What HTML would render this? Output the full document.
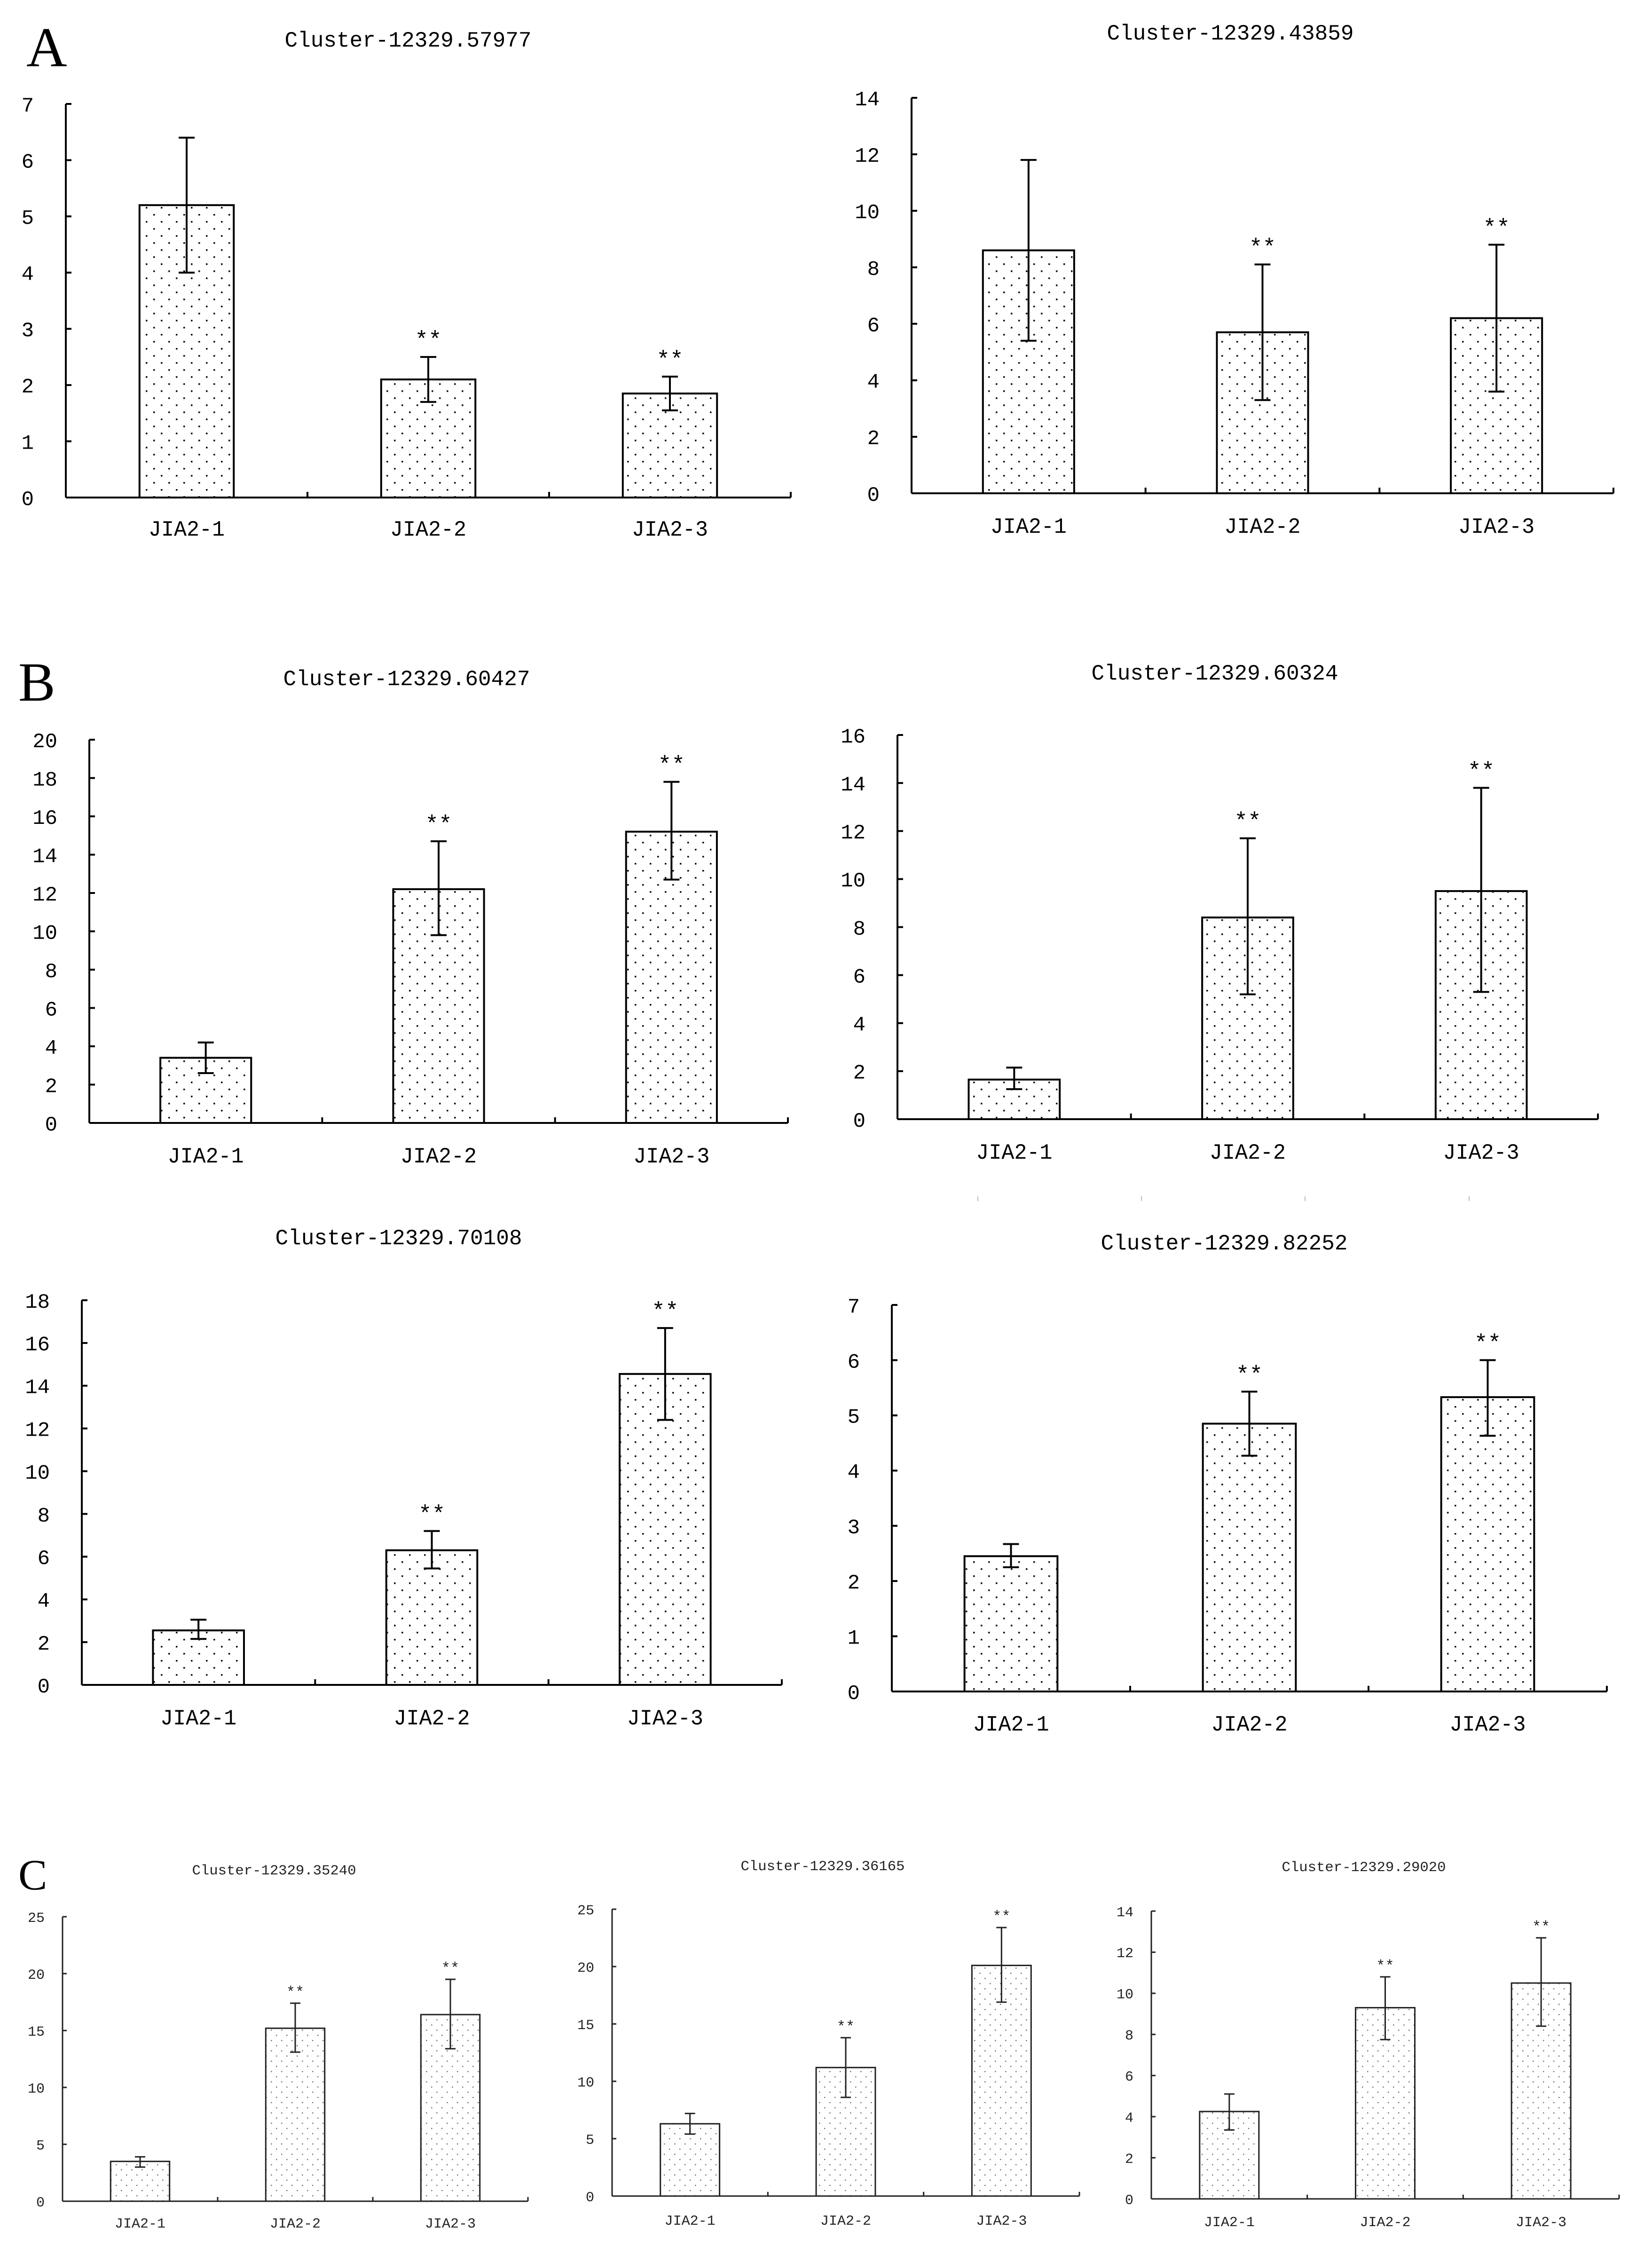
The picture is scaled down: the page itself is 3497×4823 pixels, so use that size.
<!DOCTYPE html>
<html><head><meta charset="utf-8"><style>
html,body{margin:0;padding:0;background:#fff;}
svg{display:block;}
</style></head><body>
<svg id="fig" width="3497" height="4823" viewBox="0 0 3497 4823" xmlns="http://www.w3.org/2000/svg">
<defs>
<pattern id="dotsAB" width="32" height="30" patternUnits="userSpaceOnUse">
<rect width="32" height="30" fill="#fff"/><rect x="6" y="5" width="3.5" height="3.5" fill="#111"/><rect x="22" y="20" width="3.5" height="3.5" fill="#111"/>
</pattern>
<pattern id="dotsC" width="22" height="22" patternUnits="userSpaceOnUse">
<rect width="22" height="22" fill="#fff"/><rect x="4" y="4" width="2.5" height="2.5" fill="#777"/><rect x="15" y="15" width="2.5" height="2.5" fill="#777"/>
</pattern>
</defs>
<text x="56" y="141" font-family="Liberation Serif, serif" font-size="120">A</text>
<text x="39" y="1490" font-family="Liberation Serif, serif" font-size="118">B</text>
<text x="39" y="4018" font-family="Liberation Serif, serif" font-size="92">C</text>
<g stroke="#bbb" stroke-width="2">
<line x1="2080" y1="2544" x2="2080" y2="2554"/><line x1="2428" y1="2544" x2="2428" y2="2554"/><line x1="2776" y1="2544" x2="2776" y2="2554"/><line x1="3125" y1="2544" x2="3125" y2="2554"/>
</g>
</svg>
<script>
const categories = ['JIA2-1','JIA2-2','JIA2-3'];

const a1Title = 'Cluster-12329.57977';
const a1Values = [5.2, 2.1, 1.85];
const a1Upper = [6.4, 2.5, 2.15];
const a1Lower = [4.0, 1.7, 1.55];
const a1Sig = ['', '**', '**'];
const a1Ticks = [0,1,2,3,4,5,6,7];

const a2Title = 'Cluster-12329.43859';
const a2Values = [8.6, 5.7, 6.2];
const a2Upper = [11.8, 8.1, 8.8];
const a2Lower = [5.4, 3.3, 3.6];
const a2Sig = ['', '**', '**'];
const a2Ticks = [0,2,4,6,8,10,12,14];

const b1Title = 'Cluster-12329.60427';
const b1Values = [3.4, 12.2, 15.2];
const b1Upper = [4.2, 14.7, 17.8];
const b1Lower = [2.6, 9.8, 12.7];
const b1Sig = ['', '**', '**'];
const b1Ticks = [0,2,4,6,8,10,12,14,16,18,20];

const b2Title = 'Cluster-12329.60324';
const b2Values = [1.65, 8.4, 9.5];
const b2Upper = [2.15, 11.7, 13.8];
const b2Lower = [1.25, 5.2, 5.3];
const b2Sig = ['', '**', '**'];
const b2Ticks = [0,2,4,6,8,10,12,14,16];

const b3Title = 'Cluster-12329.70108';
const b3Values = [2.55, 6.3, 14.55];
const b3Upper = [3.05, 7.2, 16.7];
const b3Lower = [2.15, 5.45, 12.4];
const b3Sig = ['', '**', '**'];
const b3Ticks = [0,2,4,6,8,10,12,14,16,18];

const b4Title = 'Cluster-12329.82252';
const b4Values = [2.45, 4.85, 5.33];
const b4Upper = [2.67, 5.43, 6.0];
const b4Lower = [2.25, 4.27, 4.63];
const b4Sig = ['', '**', '**'];
const b4Ticks = [0,1,2,3,4,5,6,7];

const c1Title = 'Cluster-12329.35240';
const c1Values = [3.5, 15.2, 16.4];
const c1Upper = [3.9, 17.4, 19.5];
const c1Lower = [3.0, 13.1, 13.4];
const c1Sig = ['', '**', '**'];
const c1Ticks = [0,5,10,15,20,25];

const c2Title = 'Cluster-12329.36165';
const c2Values = [6.3, 11.2, 20.1];
const c2Upper = [7.2, 13.8, 23.4];
const c2Lower = [5.4, 8.6, 16.9];
const c2Sig = ['', '**', '**'];
const c2Ticks = [0,5,10,15,20,25];

const c3Title = 'Cluster-12329.29020';
const c3Values = [4.25, 9.3, 10.5];
const c3Upper = [5.1, 10.8, 12.7];
const c3Lower = [3.35, 7.75, 8.4];
const c3Sig = ['', '**', '**'];
const c3Ticks = [0,2,4,6,8,10,12,14];

const NS = 'http://www.w3.org/2000/svg';
const fig = document.getElementById('fig');
function mk(tag, attrs, parent){
  const e = document.createElementNS(NS, tag);
  for (const k in attrs) e.setAttribute(k, attrs[k]);
  parent.appendChild(e);
  return e;
}

function drawChart(id, g, title, values, upper, lower, sig, ticks){
  const grp = mk('g', {}, fig);
  
  
  const ymax = ticks[ticks.length-1];
  const yScale = v => g.y0 - (v / ymax) * (g.y0 - g.yTop);
  const catW = (g.xEnd - g.x0) / categories.length;
  const xCenter = i => g.x0 + catW * (i + 0.5);
  const font = 'Liberation Mono, monospace';
  const col = g.small ? '#222' : '#000';
  const sw = g.small ? 3 : 4;

  const t = mk('text', {x: g.titleX, y: g.titleY, 'text-anchor':'middle', 'font-family':font, 'font-size':g.titleFs, textLength:g.titleLen, lengthAdjust:'spacingAndGlyphs', fill:col}, grp);
  t.textContent = title;
  
  

  values.forEach((v, i) => {
    const bw = catW * g.barFrac;
    const r = mk('rect', {x: xCenter(i) - bw/2, y: yScale(v), width: bw, height: g.y0 - yScale(v), fill: g.small ? 'url(#dotsC)' : 'url(#dotsAB)', stroke: col, 'stroke-width': sw}, grp);
    
    
  });
  values.forEach((v, i) => {
    const cx = xCenter(i);
    const eg = mk('g', {stroke: col, 'stroke-width': sw}, grp);
    
    
    mk('line', {x1: cx, y1: yScale(upper[i]), x2: cx, y2: yScale(lower[i])}, eg);
    mk('line', {x1: cx - g.cap, y1: yScale(upper[i]), x2: cx + g.cap, y2: yScale(upper[i])}, eg);
    mk('line', {x1: cx - g.cap, y1: yScale(lower[i]), x2: cx + g.cap, y2: yScale(lower[i])}, eg);
    if (sig[i]) {
      const s = mk('text', {x: cx, y: yScale(upper[i]) - g.starGap, 'text-anchor':'middle', 'font-family':font, 'font-size':g.starFs, fill:col}, grp);
      s.textContent = sig[i];
      
      
    }
  });
  const ax = mk('g', {stroke: col, 'stroke-width': sw, fill:'none'}, grp);
  
  
  mk('line', {x1: g.x0, y1: g.yTop, x2: g.x0, y2: g.y0}, ax);
  mk('line', {x1: g.x0, y1: g.y0, x2: g.xEnd, y2: g.y0}, ax);
  ticks.forEach(tv => {
    mk('line', {x1: g.x0, y1: yScale(tv), x2: g.x0 + g.tick, y2: yScale(tv)}, ax);
    const tl = mk('text', {x: g.x0 - g.labGap, y: yScale(tv) + g.tickFs*0.36, 'text-anchor':'end', 'font-family':font, 'font-size':g.tickFs, fill:col, stroke:'none'}, grp);
    tl.textContent = tv;
    
    
  });
  for (let i = 1; i <= categories.length; i++) {
    const x = g.x0 + catW * i;
    mk('line', {x1: x, y1: g.y0, x2: x, y2: g.y0 - g.tick}, ax);
  }
  categories.forEach((c, i) => {
    const xl = mk('text', {x: xCenter(i), y: g.labY, 'text-anchor':'middle', 'font-family':font, 'font-size':g.xFs, textLength:g.xLen, lengthAdjust:'spacingAndGlyphs', fill:col}, grp);
    xl.textContent = c;
    
    
  });
}

const big = {barFrac:0.39, cap:17, starGap:22, starFs:48, tick:12, labGap:68, tickFs:44, titleFs:46, titleLen:525, xFs:46, xLen:162, small:false};
const sml = {barFrac:0.38, cap:11, starGap:14, starFs:32, tick:9, labGap:38, tickFs:30, titleFs:30, titleLen:349, xFs:30, xLen:108, small:true};

drawChart('a1', Object.assign({}, big, {x0:140, xEnd:1682, y0:1058, yTop:221, titleX:868, titleY:99, labY:1139}), a1Title, a1Values, a1Upper, a1Lower, a1Sig, a1Ticks);
drawChart('a2', Object.assign({}, big, {x0:1939, xEnd:3432, y0:1049, yTop:208, titleX:2617, titleY:84, labY:1133}), a2Title, a2Values, a2Upper, a2Lower, a2Sig, a2Ticks);
drawChart('b1', Object.assign({}, big, {x0:190, xEnd:1676, y0:2388, yTop:1573, titleX:865, titleY:1457, labY:2472}), b1Title, b1Values, b1Upper, b1Lower, b1Sig, b1Ticks);
drawChart('b2', Object.assign({}, big, {x0:1909, xEnd:3399, y0:2380, yTop:1563, titleX:2584, titleY:1445, labY:2464}), b2Title, b2Values, b2Upper, b2Lower, b2Sig, b2Ticks);
drawChart('b3', Object.assign({}, big, {x0:174, xEnd:1663, y0:3583, yTop:2765, titleX:848, titleY:2646, labY:3667}), b3Title, b3Values, b3Upper, b3Lower, b3Sig, b3Ticks);
drawChart('b4', Object.assign({}, big, {x0:1897, xEnd:3418, y0:3597, yTop:2775, titleX:2604, titleY:2657, labY:3680}), b4Title, b4Values, b4Upper, b4Lower, b4Sig, b4Ticks);
drawChart('c1', Object.assign({}, sml, {x0:133, xEnd:1123, y0:4681, yTop:4076, titleX:583, titleY:3986, labY:4737}), c1Title, c1Values, c1Upper, c1Lower, c1Sig, c1Ticks);
drawChart('c2', Object.assign({}, sml, {x0:1302, xEnd:2296, y0:4670, yTop:4060, titleX:1750, titleY:3977, labY:4731}), c2Title, c2Values, c2Upper, c2Lower, c2Sig, c2Ticks);
drawChart('c3', Object.assign({}, sml, {x0:2449, xEnd:3444, y0:4676, yTop:4064, titleX:2901, titleY:3979, labY:4734}), c3Title, c3Values, c3Upper, c3Lower, c3Sig, c3Ticks);
</script>
</body></html>
